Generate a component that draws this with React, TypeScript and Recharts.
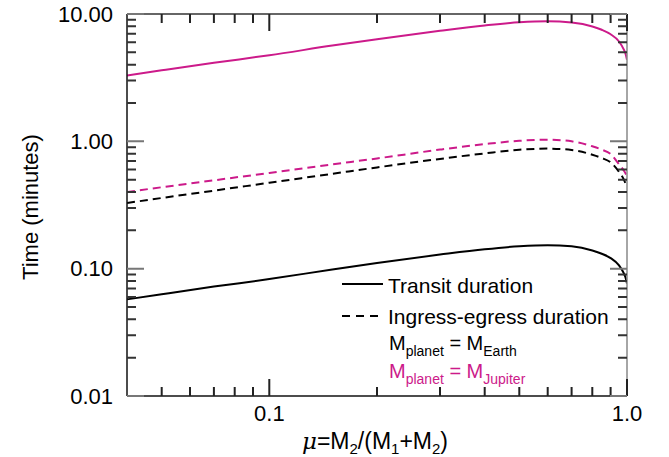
import React from 'react';
import { LineChart, Line, XAxis, YAxis, Legend } from 'recharts';

// mass ratio mu = M2/(M1+M2)
const mu = [0.04, 0.05, 0.07, 0.1, 0.15, 0.2, 0.3, 0.4, 0.5, 0.6, 0.7, 0.8, 0.85, 0.9, 0.95, 0.98, 0.99, 1.0];

// durations in minutes
const jupiterTransit = [3.29, 3.61, 4.14, 4.74, 5.65, 6.34, 7.38, 8.13, 8.61, 8.77, 8.57, 7.98, 7.52, 6.93, 6.08, 5.25, 4.9, 4.38];
const jupiterIngress = [0.4, 0.436, 0.494, 0.565, 0.659, 0.734, 0.861, 0.951, 1.01, 1.03, 1.0, 0.914, 0.861, 0.794, 0.661, 0.589, 0.562, 0.531];
const earthTransit = [0.0574, 0.063, 0.0723, 0.0828, 0.0986, 0.111, 0.129, 0.142, 0.15, 0.153, 0.15, 0.139, 0.131, 0.121, 0.106, 0.0917, 0.0856, 0.0765];
const earthIngress = [0.328, 0.359, 0.41, 0.473, 0.556, 0.624, 0.728, 0.804, 0.859, 0.877, 0.855, 0.785, 0.74, 0.684, 0.575, 0.501, 0.468, 0.433];

// ticks
const xMajor = [0.1, 1];
const xMinor = [0.05, 0.06, 0.07, 0.08, 0.09, 0.2, 0.3, 0.4, 0.5, 0.6, 0.7, 0.8, 0.9];
const xLabels: Record<string, string> = { '0.1': '0.1', '1': '1.0' };
const yMajor = [0.01, 0.1, 1, 10];
const yMinor = [
  0.02, 0.03, 0.04, 0.05, 0.06, 0.07, 0.08, 0.09,
  0.2, 0.3, 0.4, 0.5, 0.6, 0.7, 0.8, 0.9,
  2, 3, 4, 5, 6, 7, 8, 9,
];
const yLabels: Record<string, string> = { '0.01': '0.01', '0.1': '0.10', '1': '1.00', '10': '10.00' };

const X_DOMAIN = [0.04, 1];
const Y_DOMAIN = [0.01, 10];
const MAGENTA = '#cc1a8a';
const FONT = '"Liberation Sans", Arial, Helvetica, sans-serif';
const MAJOR = 17;
const MINOR = 9;

// chart box
const W = 669;
const H = 457;
const MARGIN = { top: 14, right: 42, bottom: 0, left: 0 };
const Y_AXIS_W = 127;
const X_AXIS_H = 61;
const PLOT_L = MARGIN.left + Y_AXIS_W;
const PLOT_R = W - MARGIN.right;
const PLOT_T = MARGIN.top;
const PLOT_B = H - MARGIN.bottom - X_AXIS_H;

const data = mu.map((m, i) => ({
  mu: m,
  jupiterTransit: jupiterTransit[i],
  jupiterIngress: jupiterIngress[i],
  earthTransit: earthTransit[i],
  earthIngress: earthIngress[i],
}));

// same log mapping as the chart axes, used only for the inward tick marks
function px(v: number) {
  const a = Math.log10(X_DOMAIN[0]);
  const b = Math.log10(X_DOMAIN[1]);
  return PLOT_L + ((Math.log10(v) - a) / (b - a)) * (PLOT_R - PLOT_L);
}
function py(v: number) {
  const a = Math.log10(Y_DOMAIN[0]);
  const b = Math.log10(Y_DOMAIN[1]);
  return PLOT_B - ((Math.log10(v) - a) / (b - a)) * (PLOT_B - PLOT_T);
}

function xTickPath(vals: number[], len: number) {
  return vals
    .map((v) => {
      const x = px(v).toFixed(1);
      return `M${x},${PLOT_B}V${PLOT_B - len}M${x},${PLOT_T}V${PLOT_T + len}`;
    })
    .join('');
}
function yTickPath(vals: number[], len: number) {
  return vals
    .map((v) => {
      const y = py(v).toFixed(1);
      return `M${PLOT_L},${y}H${PLOT_L + len}M${PLOT_R},${y}H${PLOT_R - len}`;
    })
    .join('');
}

const LeftLabel = (props: any) => (
  <text x={Number(props.x) - 14} y={Number(props.y)} dy={7.5} textAnchor="end" fontSize={22} fontFamily={FONT} fill="#000">
    {yLabels[String(props.payload.value)]}
  </text>
);

const BottomLabel = (props: any) => (
  <text x={Number(props.x)} y={Number(props.y) + 25} textAnchor="middle" fontSize={22} fontFamily={FONT} fill="#000">
    {xLabels[String(props.payload.value)]}
  </text>
);

const YTitle = () => (
  <text x={38} y={207} transform="rotate(-90 38 207)" textAnchor="middle" fontSize={22} fontFamily={FONT} fill="#000">
    Time (minutes)
  </text>
);

const XTitle = () => (
  <text x={375} y={449} textAnchor="middle" fontSize={23} fontFamily={FONT} fill="#000">
    <tspan fontStyle="italic" fontFamily='"DejaVu Serif", serif'>μ</tspan>
    <tspan>=M</tspan>
    <tspan dy={5} fontSize={15}>2</tspan>
    <tspan dy={-5}>/(M</tspan>
    <tspan dy={5} fontSize={15}>1</tspan>
    <tspan dy={-5}>+M</tspan>
    <tspan dy={5} fontSize={15}>2</tspan>
    <tspan dy={-5}>)</tspan>
  </text>
);

const MassRow = ({ y, body, color }: { y: number; body: string; color: string }) => (
  <text x={389} y={y} fontSize={20} fontFamily={FONT} fill={color}>
    M<tspan dy={6} fontSize={14}>planet</tspan>
    <tspan dy={-6}> = M</tspan>
    <tspan dy={6} fontSize={14}>{body}</tspan>
  </text>
);

// overlay: inward ticks and the legend block
const Overlay = () => (
  <svg width={W} height={H} style={{ display: 'block' }}>
    <path d={xTickPath(xMajor, MAJOR) + xTickPath(xMinor, MINOR)} stroke="#222" strokeWidth={2} fill="none" />
    <path d={yTickPath(yMinor, MINOR)} stroke="#333" strokeWidth={2} fill="none" />
    <path d={yTickPath(yMajor, MAJOR)} stroke="#777" strokeWidth={2} fill="none" />
    <line x1={342} y1={284} x2={383} y2={284} stroke="#000" strokeWidth={2} />
    <text x={388} y={293} fontSize={21} fontFamily={FONT} fill="#000">Transit duration</text>
    <line x1={342} y1={316} x2={383} y2={316} stroke="#000" strokeWidth={2} strokeDasharray="8 6" />
    <text x={388} y={324} fontSize={21} fontFamily={FONT} fill="#000">Ingress-egress duration</text>
    <MassRow y={350} body="Earth" color="#000" />
    <MassRow y={378} body="Jupiter" color={MAGENTA} />
  </svg>
);

export default function App() {
  return (
    <div style={{ position: 'absolute', left: 0, top: 0, width: W, height: H, background: '#fff' }}>
      <LineChart width={W} height={H} data={data} margin={MARGIN}>
        <XAxis
          xAxisId="bottom"
          dataKey="mu"
          type="number"
          scale="log"
          domain={X_DOMAIN}
          allowDataOverflow
          ticks={xMajor}
          interval={0}
          height={X_AXIS_H}
          tickSize={0}
          tickMargin={0}
          tick={BottomLabel}
          tickLine={false}
          axisLine={{ stroke: '#111', strokeWidth: 1.5 }}
          label={XTitle}
        />
        <XAxis
          xAxisId="top"
          orientation="top"
          mirror
          dataKey="mu"
          type="number"
          scale="log"
          domain={X_DOMAIN}
          allowDataOverflow
          ticks={xMajor}
          height={1}
          tick={false}
          tickLine={false}
          axisLine={{ stroke: '#333', strokeWidth: 1.5 }}
        />
        <YAxis
          yAxisId="left"
          type="number"
          scale="log"
          domain={Y_DOMAIN}
          allowDataOverflow
          ticks={yMajor}
          interval={0}
          width={Y_AXIS_W}
          tickSize={0}
          tickMargin={0}
          tick={LeftLabel}
          tickLine={false}
          axisLine={{ stroke: '#111', strokeWidth: 1.5 }}
          label={YTitle}
        />
        <YAxis
          yAxisId="right"
          orientation="right"
          mirror
          type="number"
          scale="log"
          domain={Y_DOMAIN}
          allowDataOverflow
          ticks={yMajor}
          width={1}
          tick={false}
          tickLine={false}
          axisLine={{ stroke: '#888', strokeWidth: 1.5 }}
        />
        <Legend
          layout="vertical"
          align="center"
          verticalAlign="middle"
          wrapperStyle={{ position: 'absolute', left: 0, top: 0, width: W, height: H, pointerEvents: 'none' }}
          content={Overlay}
        />
        <Line xAxisId="top" yAxisId="right" type="monotone" dataKey="jupiterTransit" stroke={MAGENTA} strokeWidth={2} dot={false} isAnimationActive={false} />
        <Line xAxisId="top" yAxisId="right" type="monotone" dataKey="jupiterIngress" stroke={MAGENTA} strokeWidth={2} strokeDasharray="8 5" dot={false} isAnimationActive={false} />
        <Line xAxisId="bottom" yAxisId="left" type="monotone" dataKey="earthTransit" stroke="#000" strokeWidth={2} dot={false} isAnimationActive={false} />
        <Line xAxisId="bottom" yAxisId="left" type="monotone" dataKey="earthIngress" stroke="#000" strokeWidth={2} strokeDasharray="8 5" dot={false} isAnimationActive={false} />
      </LineChart>
    </div>
  );
}
